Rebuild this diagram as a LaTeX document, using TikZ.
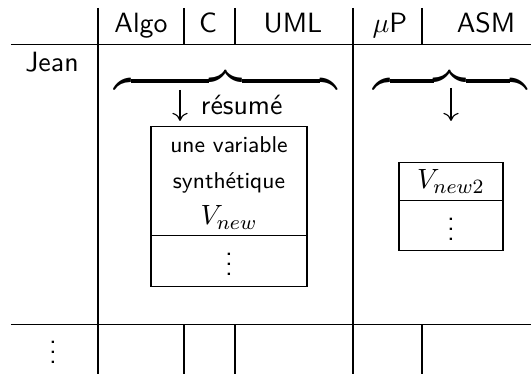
\documentclass[tikz,border=0pt]{standalone}
\usepackage{amsmath}
\usepackage{exscale}
\usetikzlibrary{arrows.meta}
\newcommand\tabfont{\sffamily\fontsize{10.95}{13.6}\selectfont}
\newcommand\boxfont{\sffamily\fontsize{9}{11}\selectfont}
\newcommand\bracefont{\fontsize{15}{18}\selectfont}
\begin{document}
\begin{tikzpicture}[x=0.393pt,y=-0.393pt,
  every node/.style={inner sep=0pt,outer sep=0pt},
  grid/.style={line width=0.4pt},
  hd/.style={anchor=base,font=\tabfont},
  sm/.style={anchor=base,font=\boxfont},
  bx/.style={line width=0.4pt},
  brc/.style={anchor=base,font=\bracefont},
  arr/.style={line width=0.45pt,-{To[length=3.2pt,width=6pt]}}]
\useasboundingbox (0,0) rectangle (531,374);
% table rules
\draw[grid] (11,45) -- (531,45);
\draw[grid] (11,325) -- (531,325);
\foreach \x in {98,353} \draw[grid] (\x,8) -- (\x,374);
\foreach \x in {184,235,422} {\draw[grid] (\x,8) -- (\x,45); \draw[grid] (\x,325) -- (\x,374);}
% header
\node[hd] (algo) at (141,33) {Algo};
\node[hd] (c) at (208,33) {C};
\node[hd] (uml) at (293,33) {UML};
\node[hd] (mup) at (390,33) {$\mu$P};
\node[hd] (asm) at (486,33) {ASM};
\node[hd] (jean) at (52,72) {Jean};
\node[hd] (rowdots) at (53,364) {$\vdots$};
% braces
\node[brc] (braceL) at (225.5,83) {\hbox to 87.6pt{\downbracefill}};
\node[brc] (braceR) at (450,83) {\hbox to 60.5pt{\downbracefill}};
\coordinate (arrLtop) at (180,90);
\coordinate (arrLend) at (180,121);
\draw[arr] (arrLtop) -- (arrLend);
\node[hd,anchor=base west] (resume) at (201,115) {r\'esum\'e};
\coordinate (arrRtop) at (451,88);
\coordinate (arrRend) at (451,121);
\draw[arr] (arrRtop) -- (arrRend);
% box 1
\draw[bx] (151,127) rectangle (307,287);
\draw[bx] (151,236) -- (307,236);
\node[sm] (l1) at (229,153) {une variable};
\node[sm] (l2) at (229,189) {synth\'etique};
\node[hd] (vnew) at (229,225) {$V_{new}$};
\node[hd] (d1) at (229,276) {$\vdots$};
% box 2
\draw[bx] (399,163) rectangle (503,251);
\draw[bx] (399,201) -- (503,201);
\node[hd] (vnew2) at (451,189) {$V_{new2}$};
\node[hd] (d2) at (451,241) {$\vdots$};
\end{tikzpicture}
\end{document}
